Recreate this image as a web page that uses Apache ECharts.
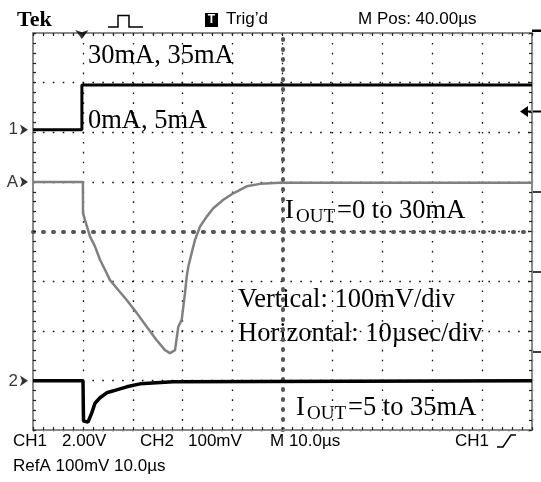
<!DOCTYPE html>
<html><head><meta charset="utf-8">
<script src="https://cdn.jsdelivr.net/npm/echarts@6/dist/echarts.min.js"></script>
<style>html,body{margin:0;padding:0;background:#fff}#c{width:541px;height:482px}</style>
</head><body><div id="c"></div>
<script>
// Horizontal: microseconds (10 us / division, 10 divisions). Vertical: screen divisions 0..8.
const xTicks = [0, 10, 20, 30, 40, 50, 60, 70, 80, 90, 100];
const yTicks = [0, 1, 2, 3, 4, 5, 6, 7, 8];

const ch1Time  = [0, 9.8, 9.8, 100];
const ch1Level = [6.05, 6.05, 6.95, 6.95];

const refATime  = [0, 10.0, 10.02, 10.42, 11.42, 12.42, 13.43, 14.43, 15.43, 17.09, 18.78, 20.78, 22.79, 24.79, 26.45, 27.45, 28.46, 29.12, 29.80, 30.46, 30.80, 31.12, 31.80, 32.46, 33.47, 34.81, 36.13, 38.14, 40.14, 42.83, 45.49, 49.5, 100];
const refALevel = [5.0, 5.0, 4.375, 4.23, 3.90, 3.70, 3.43, 3.23, 3.02, 2.82, 2.62, 2.36, 2.08, 1.81, 1.61, 1.55, 1.61, 2.08, 2.22, 2.76, 3.09, 3.29, 3.57, 3.83, 4.10, 4.30, 4.47, 4.64, 4.77, 4.91, 4.96, 4.98, 4.98];

const ch2Time  = [0, 10.02, 10.12, 11.02, 11.76, 12.42, 13.43, 14.77, 16.77, 18.78, 21.44, 28.06, 100];
const ch2Level = [0.99, 0.99, 0.18, 0.16, 0.34, 0.54, 0.65, 0.75, 0.81, 0.87, 0.93, 0.97, 0.99];

const markerNames  = ['1', 'A', '2'];
const markerLevels = [6.05, 5.0, 0.99];
const triggerTime = 9.8;

const zip = (a, b) => a.map((v, i) => [v, b[i]]);

const chart = echarts.init(document.getElementById('c'), null, {renderer: 'canvas'});
const serif = "'Liberation Serif', 'Times New Roman', serif";
const sans = "'Liberation Sans', Arial, sans-serif";
const dotted = {show: true, lineStyle: {color: '#111', width: 1.3, type: [1.6, 8.3]}};
const tickStyle = {color: '#222', width: 1.2};
const borderAxisX = (pos, split) => ({
  type: 'value', gridIndex: 0, position: pos, min: xTicks[0], max: xTicks[xTicks.length - 1], interval: 10,
  axisLine: {show: true, onZero: false, lineStyle: {color: '#8a8a8a', width: 2}},
  axisTick: {show: true, inside: true, length: 3, lineStyle: tickStyle},
  minorTick: {show: true, splitNumber: 5, length: 3, lineStyle: tickStyle},
  axisLabel: {show: false}, splitLine: split ? dotted : {show: false}
});
const borderAxisY = (pos, split) => ({
  type: 'value', gridIndex: 0, position: pos, min: yTicks[0], max: yTicks[yTicks.length - 1], interval: 1,
  axisLine: {show: true, onZero: false, lineStyle: {color: '#8a8a8a', width: 2}},
  axisTick: {show: true, inside: true, length: 3, lineStyle: tickStyle},
  minorTick: {show: true, splitNumber: 5, length: 3, lineStyle: tickStyle},
  axisLabel: {show: false}, splitLine: split ? dotted : {show: false}
});
const centerLine = {show: true, onZero: false, lineStyle: {color: '#555', width: 4, type: [1, 9]}};

const txt = (x, y, text, font, extra) => ({
  type: 'text', x: x, y: y,
  style: Object.assign({text: text, font: font, fill: '#000', align: 'left', verticalAlign: 'middle'}, extra || {})
});

const option = {
  backgroundColor: '#fff',
  animation: false,
  grid: {left: 33, top: 33, width: 499, height: 397, containLabel: false},
  xAxis: [
    borderAxisX('bottom', true),
    borderAxisX('top', false),
    {type: 'value', position: 'bottom', offset: -198.5, min: 0, max: 100, axisLine: centerLine,
     axisTick: {show: false}, axisLabel: {show: false}, splitLine: {show: false}}
  ],
  yAxis: [
    borderAxisY('left', true),
    borderAxisY('right', false),
    {type: 'value', position: 'left', offset: -250, min: 0, max: 8, axisLine: centerLine,
     axisTick: {show: false}, axisLabel: {show: false}, splitLine: {show: false}}
  ],
  series: [
    {name: 'RefA', type: 'line', data: zip(refATime, refALevel), showSymbol: false, symbol: 'none',
     lineStyle: {color: '#808080', width: 2.5}, z: 3},
    {name: 'CH2', type: 'line', data: zip(ch2Time, ch2Level), showSymbol: false, symbol: 'none',
     lineStyle: {color: '#000', width: 3.5}, z: 4},
    {name: 'CH1', type: 'line', data: zip(ch1Time, ch1Level), showSymbol: false, symbol: 'none',
     lineStyle: {color: '#000', width: 3}, z: 4},
    {name: 'markers', type: 'scatter', data: markerLevels.map((v) => [0, v]),
     symbol: 'arrow', symbolSize: [8, 8], symbolRotate: -90, symbolOffset: [-5, 0],
     itemStyle: {color: '#000'},
     label: {show: true, position: 'left', distance: 2, color: '#000', fontSize: 17, fontFamily: sans,
             formatter: (p) => markerNames[p.dataIndex]}, z: 5},
    {name: 'trigger', type: 'scatter', data: [[triggerTime, 8]],
     symbol: 'arrow', symbolSize: [10, 9], symbolRotate: 180, symbolOffset: [0, 6],
     itemStyle: {color: '#000'}, z: 5}
  ],
  graphic: [
    txt(17, 20, 'Tek', 'bold 22px ' + serif),
    {type: 'polyline', shape: {points: [[108, 27], [118, 27], [118, 15.5], [129, 15.5], [129, 27], [143, 27]]},
     style: {stroke: '#000', lineWidth: 1.5, fill: null}},
    {type: 'rect', shape: {x: 205, y: 13, width: 13, height: 14}, style: {fill: '#000'}},
    txt(211.5, 20, 'T', 'bold 12px ' + sans, {fill: '#fff', align: 'center'}),
    txt(226, 19, 'Trig\u2019d', '17px ' + sans),
    txt(358, 19, 'M Pos: 40.00\u00b5s', '17px ' + sans),
    {type: 'rect', shape: {x: 532, y: 29.5, width: 9, height: 2.5}, style: {fill: '#000'}},
    // right side indicators
    {type: 'polygon', shape: {points: [[520, 111.5], [528, 106], [528, 117]]}, style: {fill: '#000'}},
    {type: 'line', shape: {x1: 526, y1: 111.5, x2: 541, y2: 111.5}, style: {stroke: '#000', lineWidth: 2}},
    {type: 'line', shape: {x1: 533, y1: 192, x2: 541, y2: 192}, style: {stroke: '#000', lineWidth: 1.5}},
    {type: 'line', shape: {x1: 533, y1: 272, x2: 541, y2: 272}, style: {stroke: '#000', lineWidth: 1.5}},
    {type: 'line', shape: {x1: 533, y1: 352, x2: 541, y2: 352}, style: {stroke: '#000', lineWidth: 1.5}},
    // annotations
    txt(88, 56.5, '30mA, 35mA', '26.5px ' + serif),
    txt(88, 121, '0mA, 5mA', '26.5px ' + serif),
    txt(285, 211, 'I', '26.5px ' + serif),
    txt(296, 217, 'OUT', '19px ' + serif),
    txt(337, 211, '=0 to 30mA', '26.5px ' + serif),
    txt(238, 300, 'Vertical: 100mV/div', '26.5px ' + serif),
    txt(238, 334, 'Horizontal: 10\u00b5sec/div', '26.5px ' + serif),
    txt(296, 408, 'I', '26.5px ' + serif),
    txt(307, 414, 'OUT', '19px ' + serif),
    txt(348, 408, '=5 to 35mA', '26.5px ' + serif),
    // bottom status
    txt(13, 441, 'CH1', '17px ' + sans),
    txt(62, 441, '2.00V', '17px ' + sans),
    txt(140, 441, 'CH2', '17px ' + sans),
    txt(188, 441, '100mV', '17px ' + sans),
    txt(270, 441, 'M 10.0\u00b5s', '17px ' + sans),
    txt(455, 441, 'CH1', '17px ' + sans),
    {type: 'polyline', shape: {points: [[497, 447], [503, 447], [511, 435], [516, 435]]},
     style: {stroke: '#000', lineWidth: 1.5, fill: null}},
    txt(13, 466, 'RefA 100mV 10.0\u00b5s', '17px ' + sans)
  ]
};
chart.setOption(option);
</script>
</body></html>
